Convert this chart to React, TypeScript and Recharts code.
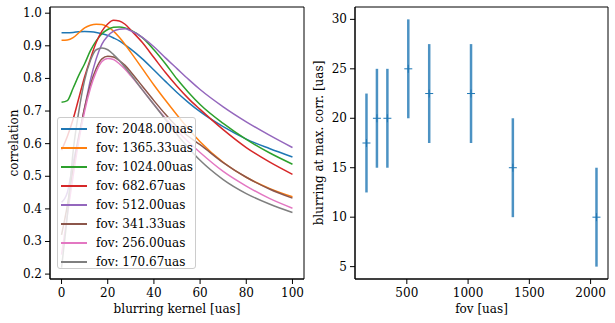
import React from 'react';
import { LineChart, Line, XAxis, YAxis, ScatterChart, Scatter, ErrorBar, ReferenceArea } from 'recharts';

// blurring kernel sizes [uas] (shared x for all correlation curves)
const kernel = [0, 2.5, 5, 7.5, 10, 12.5, 15, 17.5, 20, 22.5, 25, 27.5, 30, 35, 40, 45, 50, 55, 60, 70, 80, 90, 100];

// correlation vs blurring kernel, one array per field of view
const corr2048 = [0.940, 0.940, 0.941, 0.943, 0.944, 0.943, 0.941, 0.937, 0.932, 0.924, 0.915, 0.903, 0.890, 0.860, 0.826, 0.791, 0.757, 0.726, 0.698, 0.652, 0.614, 0.585, 0.559];
const corr1365 = [0.917, 0.918, 0.925, 0.940, 0.955, 0.963, 0.966, 0.965, 0.958, 0.945, 0.926, 0.904, 0.880, 0.830, 0.780, 0.733, 0.688, 0.645, 0.606, 0.543, 0.497, 0.463, 0.437];
const corr1024 = [0.727, 0.732, 0.770, 0.810, 0.845, 0.885, 0.915, 0.937, 0.950, 0.957, 0.958, 0.955, 0.948, 0.925, 0.888, 0.845, 0.798, 0.757, 0.720, 0.662, 0.613, 0.572, 0.537];
const corr682 = [0.580, 0.622, 0.675, 0.740, 0.805, 0.860, 0.910, 0.945, 0.967, 0.978, 0.976, 0.966, 0.948, 0.910, 0.864, 0.818, 0.776, 0.738, 0.705, 0.643, 0.588, 0.544, 0.506];
const corr512 = [0.420, 0.450, 0.540, 0.625, 0.710, 0.795, 0.860, 0.905, 0.930, 0.945, 0.951, 0.952, 0.946, 0.926, 0.897, 0.863, 0.830, 0.797, 0.766, 0.713, 0.667, 0.626, 0.588];
const corr341 = [0.320, 0.410, 0.520, 0.620, 0.710, 0.780, 0.830, 0.860, 0.868, 0.866, 0.855, 0.840, 0.820, 0.776, 0.732, 0.690, 0.652, 0.622, 0.597, 0.542, 0.497, 0.461, 0.433];
const corr256 = [0.260, 0.380, 0.500, 0.610, 0.700, 0.770, 0.820, 0.852, 0.861, 0.858, 0.845, 0.828, 0.808, 0.765, 0.720, 0.678, 0.640, 0.605, 0.573, 0.515, 0.470, 0.432, 0.402];
const corr170 = [0.220, 0.380, 0.575, 0.700, 0.795, 0.855, 0.888, 0.893, 0.888, 0.873, 0.855, 0.834, 0.812, 0.765, 0.720, 0.674, 0.628, 0.587, 0.549, 0.490, 0.447, 0.415, 0.389];

const seriesLabels = ['fov: 2048.00uas', 'fov: 1365.33uas', 'fov: 1024.00uas', 'fov: 682.67uas', 'fov: 512.00uas', 'fov: 341.33uas', 'fov: 256.00uas', 'fov: 170.67uas'];
const seriesColors = ['#1f77b4', '#ff7f0e', '#2ca02c', '#d62728', '#9467bd', '#8c564b', '#e377c2', '#7f7f7f'];
const seriesValues = [corr2048, corr1365, corr1024, corr682, corr512, corr341, corr256, corr170];

const corrTicks = [0.2, 0.3, 0.4, 0.5, 0.6, 0.7, 0.8, 0.9, 1.0];
const kernelTicks = [0, 20, 40, 60, 80, 100];

// right panel: blurring at max correlation vs fov
const fov = [170.67, 256, 341.33, 512, 682.67, 1024, 1365.33, 2048];
const blurAtMax = [17.5, 20, 20, 25, 22.5, 22.5, 15, 10];
const blurErr = [5, 5, 5, 5, 5, 5, 5, 5];
const fovTicks = [500, 1000, 1500, 2000];
const blurTicks = [5, 10, 15, 20, 25, 30];

const FONT = '"DejaVu Serif", serif';
const tickStyle = { fontFamily: FONT, fontSize: 12, fill: '#000' };
const labelStyle = { fontFamily: FONT, fontSize: 12, fill: '#000', textAnchor: 'middle' as const };

const lineData = kernel.map((k, i) => {
  const row: Record<string, number> = { k };
  seriesValues.forEach((vals, s) => {
    row[`s${s}`] = vals[i];
  });
  return row;
});

const scatterData = fov.map((f, i) => ({ fov: f, blur: blurAtMax[i], err: blurErr[i] }));

const SerifTick = (props: any) => {
  const { x, y, payload, textAnchor, verticalAnchor, fmt } = props;
  const dy = verticalAnchor === 'start' ? 10 : 4;
  return (
    <text x={x} y={y} dy={dy} textAnchor={textAnchor} fontFamily={FONT} fontSize={12} fill="#000">
      {fmt ? fmt(payload.value) : payload.value}
    </text>
  );
};

const PlusMarker = (props: any) => {
  const { cx, cy } = props;
  return (
    <g>
      <line x1={cx - 4} x2={cx + 4} y1={cy} y2={cy} stroke="#1f77b4" strokeWidth={1} />
      <line x1={cx} x2={cx} y1={cy - 4} y2={cy + 4} stroke="#1f77b4" strokeWidth={1} />
    </g>
  );
};

export default function App() {
  return (
    <div style={{ position: 'absolute', left: 0, top: 0, width: 615, height: 323, background: '#fff', fontFamily: FONT }}>
      <div style={{ position: 'absolute', left: 0, top: 0 }}>
        <LineChart width={310} height={323} data={lineData} margin={{ top: 7, right: 6, bottom: 0, left: 0 }}>
          <XAxis
            dataKey="k"
            type="number"
            domain={[-5, 105]}
            ticks={kernelTicks}
            allowDataOverflow
            height={44}
            tick={<SerifTick />}
            tickSize={5}
            tickMargin={3}
            stroke="#000"
            label={{ value: 'blurring kernel [uas]', position: 'insideBottom', offset: 10, style: labelStyle }}
          />
          <YAxis
            type="number"
            domain={[0.185, 1.019]}
            ticks={corrTicks}
            allowDataOverflow
            width={50}
            tick={<SerifTick fmt={(v: number) => v.toFixed(1)} />}
            tickSize={5}
            tickMargin={3}
            stroke="#000"
            label={{ value: 'correlation', angle: -90, position: 'insideLeft', offset: 14, style: labelStyle }}
          />
          <ReferenceArea x1={-5} x2={105} y1={0.185} y2={1.019} fill="none" stroke="#000" strokeWidth={1} />
          {seriesLabels.map((name, s) => (
            <Line
              key={name}
              dataKey={`s${s}`}
              name={name}
              type="monotone"
              stroke={seriesColors[s]}
              strokeWidth={1.5}
              dot={false}
              isAnimationActive={false}
            />
          ))}
        </LineChart>
        <div
          style={{
            position: 'absolute',
            left: 57,
            top: 117,
            width: 139,
            height: 152,
            background: 'rgba(255,255,255,0.8)',
            border: '1px solid #ccc',
            borderRadius: 3,
            boxSizing: 'border-box',
          }}
        >
          {seriesLabels.map((name, s) => (
            <div
              key={name}
              style={{ position: 'absolute', left: 0, top: 1 + s * 19, height: 19, display: 'flex', alignItems: 'center' }}
            >
              <div style={{ marginLeft: 3, width: 26, height: 2, background: seriesColors[s] }} />
              <span style={{ marginLeft: 9, fontFamily: FONT, fontSize: 12, color: '#000', whiteSpace: 'nowrap' }}>{name}</span>
            </div>
          ))}
        </div>
      </div>

      <div style={{ position: 'absolute', left: 305, top: 0 }}>
        <ScatterChart width={310} height={323} margin={{ top: 7, right: 7, bottom: 0, left: 0 }}>
          <XAxis
            dataKey="fov"
            type="number"
            domain={[77, 2142]}
            ticks={fovTicks}
            allowDataOverflow
            height={44}
            tick={<SerifTick />}
            tickSize={5}
            tickMargin={3}
            stroke="#000"
            label={{ value: 'fov [uas]', position: 'insideBottom', offset: 10, style: labelStyle }}
          />
          <YAxis
            dataKey="blur"
            type="number"
            domain={[3.75, 31.25]}
            ticks={blurTicks}
            allowDataOverflow
            width={50}
            tick={<SerifTick />}
            tickSize={5}
            tickMargin={3}
            stroke="#000"
            label={{ value: 'blurring at max. corr. [uas]', angle: -90, position: 'insideLeft', offset: 14, style: labelStyle }}
          />
          <ReferenceArea x1={77} x2={2142} y1={3.75} y2={31.25} fill="none" stroke="#000" strokeWidth={1} />
          <Scatter data={scatterData} shape={<PlusMarker />} isAnimationActive={false}>
            <ErrorBar dataKey="err" direction="y" width={0} stroke="#1f77b4" strokeOpacity={0.8} strokeWidth={2.5} />
          </Scatter>
        </ScatterChart>
      </div>
    </div>
  );
}
